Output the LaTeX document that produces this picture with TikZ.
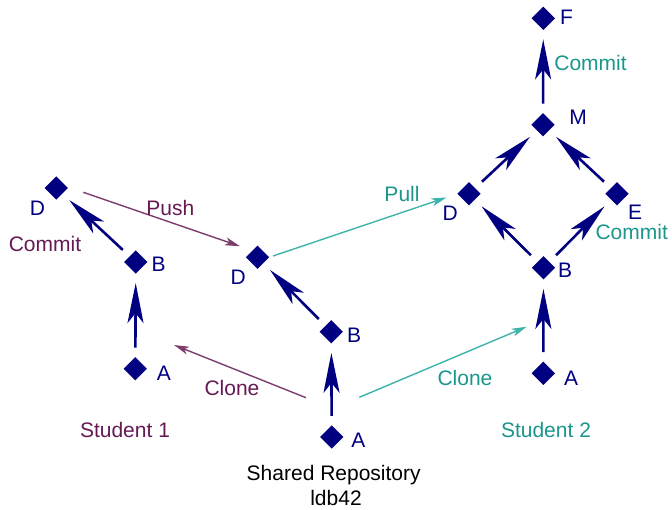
\documentclass[tikz,border=0pt]{standalone}
\usepackage{fontspec}
\setmainfont{Liberation Sans}
\usetikzlibrary{shapes.geometric,arrows.meta}
\definecolor{navyc}{RGB}{0,0,128}
\definecolor{purptext}{RGB}{102,26,84}
\definecolor{purpline}{RGB}{125,60,110}
\definecolor{tealtext}{RGB}{26,150,140}
\definecolor{tealline}{RGB}{60,180,172}
\tikzset{
  commit/.style={diamond,fill=navyc,draw=none,minimum width=23.3pt,minimum height=23.3pt,inner sep=0pt,outer sep=0pt},
  txt/.style={anchor=base,inner sep=0pt,font=\fontsize{21}{24}\selectfont},
  lbl/.style={txt,text=navyc},
  ptxt/.style={txt,text=purptext},
  ttxt/.style={txt,text=tealtext},
  hist/.style={draw=navyc,line width=2.6pt,-{Stealth[length=40pt,width=16pt,inset=10pt]},shorten >=9.5pt,shorten <=9.5pt},
  pflow/.style={draw=purpline,line width=1.4pt,-{Stealth[length=15pt,width=8pt,inset=4pt]}},
  tflow/.style={draw=tealline,line width=1.4pt,-{Stealth[length=15pt,width=8pt,inset=4pt]}}
}
\begin{document}
\begin{tikzpicture}[x=1pt,y=-1pt]
\useasboundingbox (0,0) rectangle (672,509);
% Student 1
\node[commit] (aD) at (56.3,188) {};
\node[commit] (aB) at (135.8,262) {};
\node[commit] (aA) at (135.3,368.7) {};
% Shared
\node[commit] (sD) at (257.5,257.3) {};
\node[commit] (sB) at (331.3,331.7) {};
\node[commit] (sA) at (331.7,437) {};
% Student 2
\node[commit] (tF) at (543.3,18.3) {};
\node[commit] (tM) at (543,124.7) {};
\node[commit] (tD) at (469,193.8) {};
\node[commit] (tE) at (617,193.8) {};
\node[commit] (tB) at (543.5,267.8) {};
\node[commit] (tA) at (543.3,373.3) {};
% commit letters
\node[lbl] (aDl) at (37.5,215) {D};
\node[lbl] (aBl) at (158.7,271.7) {B};
\node[lbl] (aAl) at (164,380) {A};
\node[lbl] (sDl) at (238.3,284) {D};
\node[lbl] (sBl) at (354.2,342.7) {B};
\node[lbl] (sAl) at (358.3,447.5) {A};
\node[lbl] (tFl) at (566.5,24) {F};
\node[lbl] (tMl) at (578,124) {M};
\node[lbl] (tDl) at (450.3,220) {D};
\node[lbl] (tEl) at (635,219) {E};
\node[lbl] (tBl) at (565,277.5) {B};
\node[lbl] (tAl) at (571,385) {A};
% history arrows
\draw[hist] (aA) -- (aB);
\draw[hist] (aB) -- (aD);
\draw[hist] (sA) -- (sB);
\draw[hist] (sB) -- (sD);
\draw[hist] (tA) -- (tB);
\draw[hist] (tB) -- (tD);
\draw[hist] (tB) -- (tE);
\draw[hist] (tD) -- (tM);
\draw[hist] (tE) -- (tM);
\draw[hist] (tM) -- (tF);
% flows
\coordinate (c1s) at (306,397.7);
\coordinate (c1e) at (174,345);
\coordinate (c2s) at (359.3,397.3);
\coordinate (c2e) at (526.7,326.7);
\draw[pflow] (c1s) -- (c1e);
\draw[tflow] (c2s) -- (c2e);
\draw[pflow,shorten <=28.6pt,shorten >=18.6pt] ([yshift=5pt]aD.center) -- ([yshift=5pt]sD.center);
\draw[tflow,shorten <=4pt,shorten >=11.5pt] (sD.east) -- (tD.west);
% flow texts
\node[ptxt] (push) at (170.3,215) {Push};
\node[ptxt] (commit1) at (45,251.7) {Commit};
\node[ptxt] (clone1) at (232,395) {Clone};
\node[ptxt] (stu1) at (125,437.3) {Student 1};
\node[ttxt] (pull) at (402,201.7) {Pull};
\node[ttxt] (commit2) at (590.5,70.7) {Commit};
\node[ttxt] (commit3) at (631.7,239.3) {Commit};
\node[ttxt] (clone2) at (465,385) {Clone};
\node[ttxt] (stu2) at (546,437) {Student 2};
\node[txt] (shared) at (333.7,480.7) {Shared Repository};
\node[txt] (ldb) at (336,505) {ldb42};
\end{tikzpicture}
\end{document}
